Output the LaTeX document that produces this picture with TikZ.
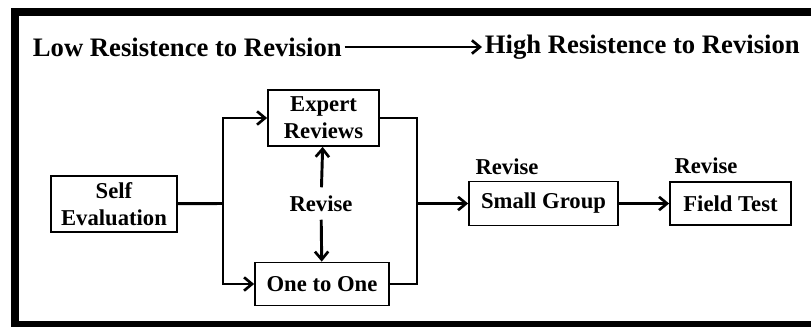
\documentclass[tikz,border=0pt]{standalone}
\usepackage{fontspec}
\setmainfont{Liberation Serif}
\usetikzlibrary{arrows.meta}

\begin{document}
\begin{tikzpicture}[
	x=0.75pt, y=-0.75pt,
	stage/.style={draw, line width=1.3pt, font=\fontsize{17}{20}\selectfont\bfseries,
		align=center, inner sep=0pt},
	title/.style={font=\fontsize{20}{22}\selectfont\bfseries, inner sep=2pt},
	tag/.style={font=\fontsize{17}{18}\selectfont\bfseries, inner sep=1pt},
	flow/.style={line width=2.2pt, -{Straight Barb[length=6pt,width=10pt,line width=2pt]}},
	wire/.style={line width=2.2pt},
]
\useasboundingbox (0,0) rectangle (811,326);
% frame, open on the right
\draw[line width=6pt] (815,12) -- (15,12) -- (15,325) -- (815,325);

% scale of resistance
\node[title, anchor=west] (low) at (30,47) {Low Resistence to Revision};
\node[title, anchor=west] (high) at (482,47) {High Resistence to Revision};
\draw[flow] (low) -- (high);

% stages
\node[stage, minimum width=94.5pt, minimum height=42pt] (self) at (114,204) {Self\\Evaluation};
\node[stage, minimum width=83.25pt, minimum height=42pt] (expert) at (323.5,118) {Expert\\Reviews};
\node[stage, minimum width=100.5pt, minimum height=32.25pt] (one) at (322,284) {One to One};
\node[stage, minimum width=111.75pt, minimum height=33pt] (small) at (543.5,203.5) {Small Group};
\node[stage, minimum width=90.75pt, minimum height=32.25pt] (field) at (730.5,203.5) {Field Test};

\node[tag, inner sep=6pt] (revise) at (321,203.5) {Revise};
\node[tag] (revsmall) at (507,167) {Revise};
\node[tag] (revfield) at (706,166) {Revise};

\coordinate (split) at (223,203.5);
\coordinate (join) at (417,203.5);

% connectors
\draw[wire] (self) -- (split);
\foreach \t in {expert,one}
	\draw[flow] (split) |- (\t);
\foreach \t in {expert,one}
	\draw[wire] (\t) -| (join);
\draw[flow] (join) -- (small);
\draw[flow] (small) -- (field);
\draw[flow] (revise) -- (expert);
\draw[flow] (revise) -- (one);
\end{tikzpicture}
\end{document}
